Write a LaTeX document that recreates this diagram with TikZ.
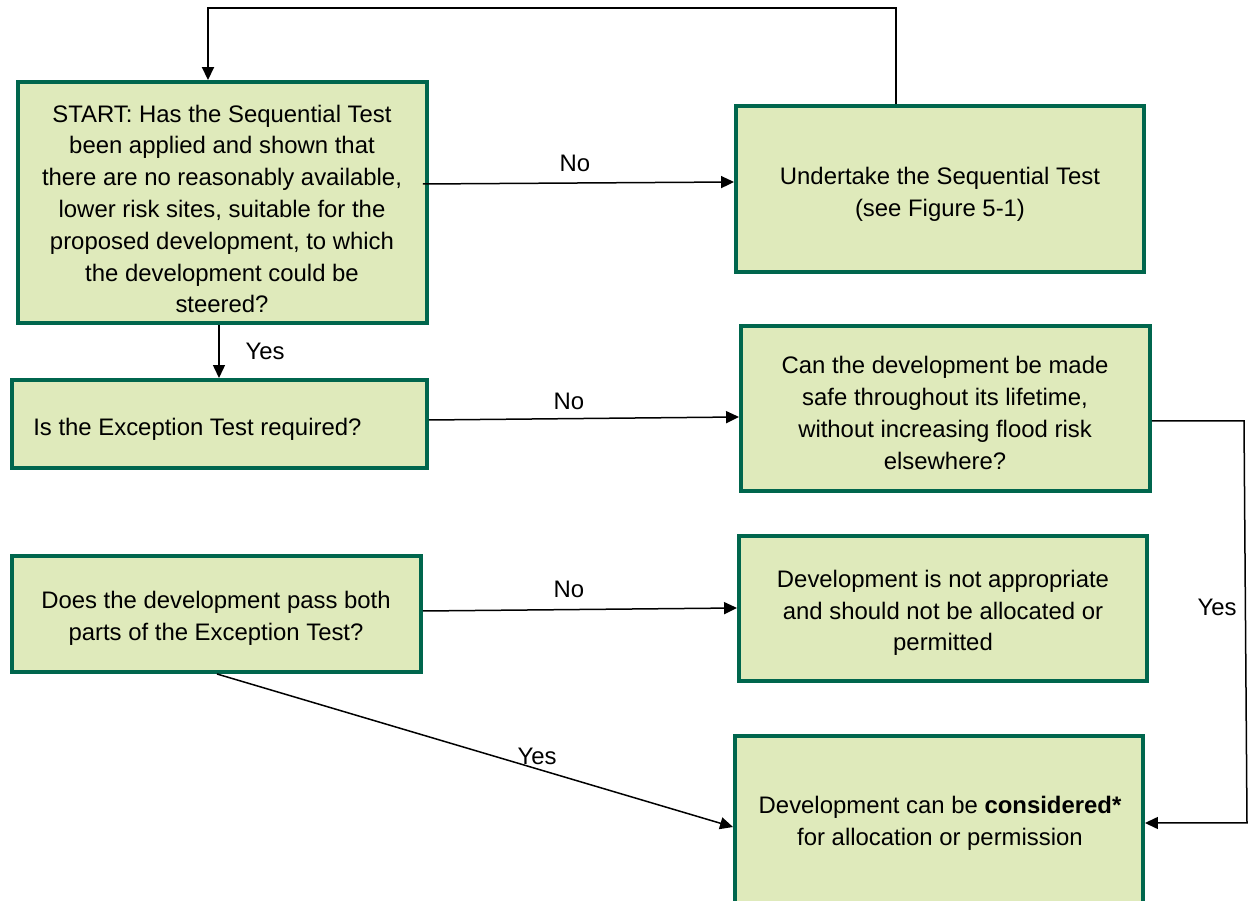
\documentclass[tikz,border=0pt]{standalone}
\usepackage{fontspec}
\setmainfont{Liberation Sans}
\usetikzlibrary{arrows.meta}
\definecolor{boxfill}{RGB}{223,234,187}
\definecolor{boxline}{RGB}{0,102,77}
\tikzset{
  box/.style={draw=boxline, fill=boxfill, line width=0.08cm, inner sep=0pt, outer sep=0.04cm, rectangle},
  txt/.style={align=center, inner sep=0pt, font=\fontsize{13.6pt}{18.1pt}\selectfont},
  lbl/.style={inner sep=0pt, font=\fontsize{13.6pt}{18.1pt}\selectfont},
  arr/.style={line width=0.03cm, -{Triangle[length=0.26cm, width=0.24cm]}},
  ln/.style={line width=0.03cm}
}
\begin{document}
\begin{tikzpicture}[x=0.02cm, y=-0.02cm]
\useasboundingbox (0,0) rectangle (1248,901);
% boxes
\node[box, minimum width=8.18cm, minimum height=4.82cm] (start) at (222.5,202.5) {};
\node[txt] (startt) at (222,209) {START: Has the Sequential Test\\been applied and shown that\\there are no reasonably available,\\lower risk sites, suitable for the\\proposed development, to which\\the development could be\\steered?};
\node[box, minimum width=8.16cm, minimum height=3.32cm] (undertake) at (940,189) {};
\node[txt] (undertaket) at (940,194) {Undertake the Sequential Test\\(see Figure 5-1)};
\node[box, minimum width=8.30cm, minimum height=1.76cm] (exreq) at (219.5,424) {};
\node[txt, anchor=west] (exreqt) at (33,429) {Is the Exception Test required?};
\node[box, minimum width=8.18cm, minimum height=3.30cm] (can) at (945.5,408.5) {};
\node[txt] (cant) at (945,413) {Can the development be made\\safe throughout its lifetime,\\without increasing flood risk\\elsewhere?};
\node[box, minimum width=8.18cm, minimum height=2.32cm] (pass) at (216.5,614) {};
\node[txt] (passt) at (216,618) {Does the development pass both\\parts of the Exception Test?};
\node[box, minimum width=8.16cm, minimum height=2.90cm] (notapp) at (943,608.5) {};
\node[txt] (notappt) at (943,613) {Development is not appropriate\\and should not be allocated or\\permitted};
\node[box, minimum width=8.16cm, minimum height=3.44cm] (cons) at (939,822) {};
\node[txt] (const) at (940,823) {Development can be \textbf{considered*}\\for allocation or permission};
% connectors
\draw[arr, line width=0.04cm] (undertake.north -| 896,0) -- (896,8) -- (208,8) -- (start.north -| 208,0);
\draw[arr] ([xshift=-0.12cm]start.east |- 0,184) -- (undertake.west |- 0,182);
\node[lbl] (no1) at (575,163) {No};
\draw[arr] (start.south -| 219,0) -- (exreq.north -| 219,0);
\node[lbl] (yes1) at (265,351) {Yes};
\draw[arr] (exreq.east |- 0,420) -- (can.west |- 0,417);
\node[lbl] (no2) at (569,401) {No};
\draw[arr] (pass.east |- 0,611) -- (notapp.west |- 0,608);
\node[lbl] (no3) at (569,589) {No};
\draw[arr] (pass.south -| 217,0) -- (cons.west |- 0,827);
\node[lbl] (yes2) at (537,756) {Yes};
\draw[arr] (can.east |- 0,421) -- (1244,421) -- (1247,823) -- (cons.east |- 0,823);
\node[lbl] (yes3) at (1217,607) {Yes};
\end{tikzpicture}
\end{document}
